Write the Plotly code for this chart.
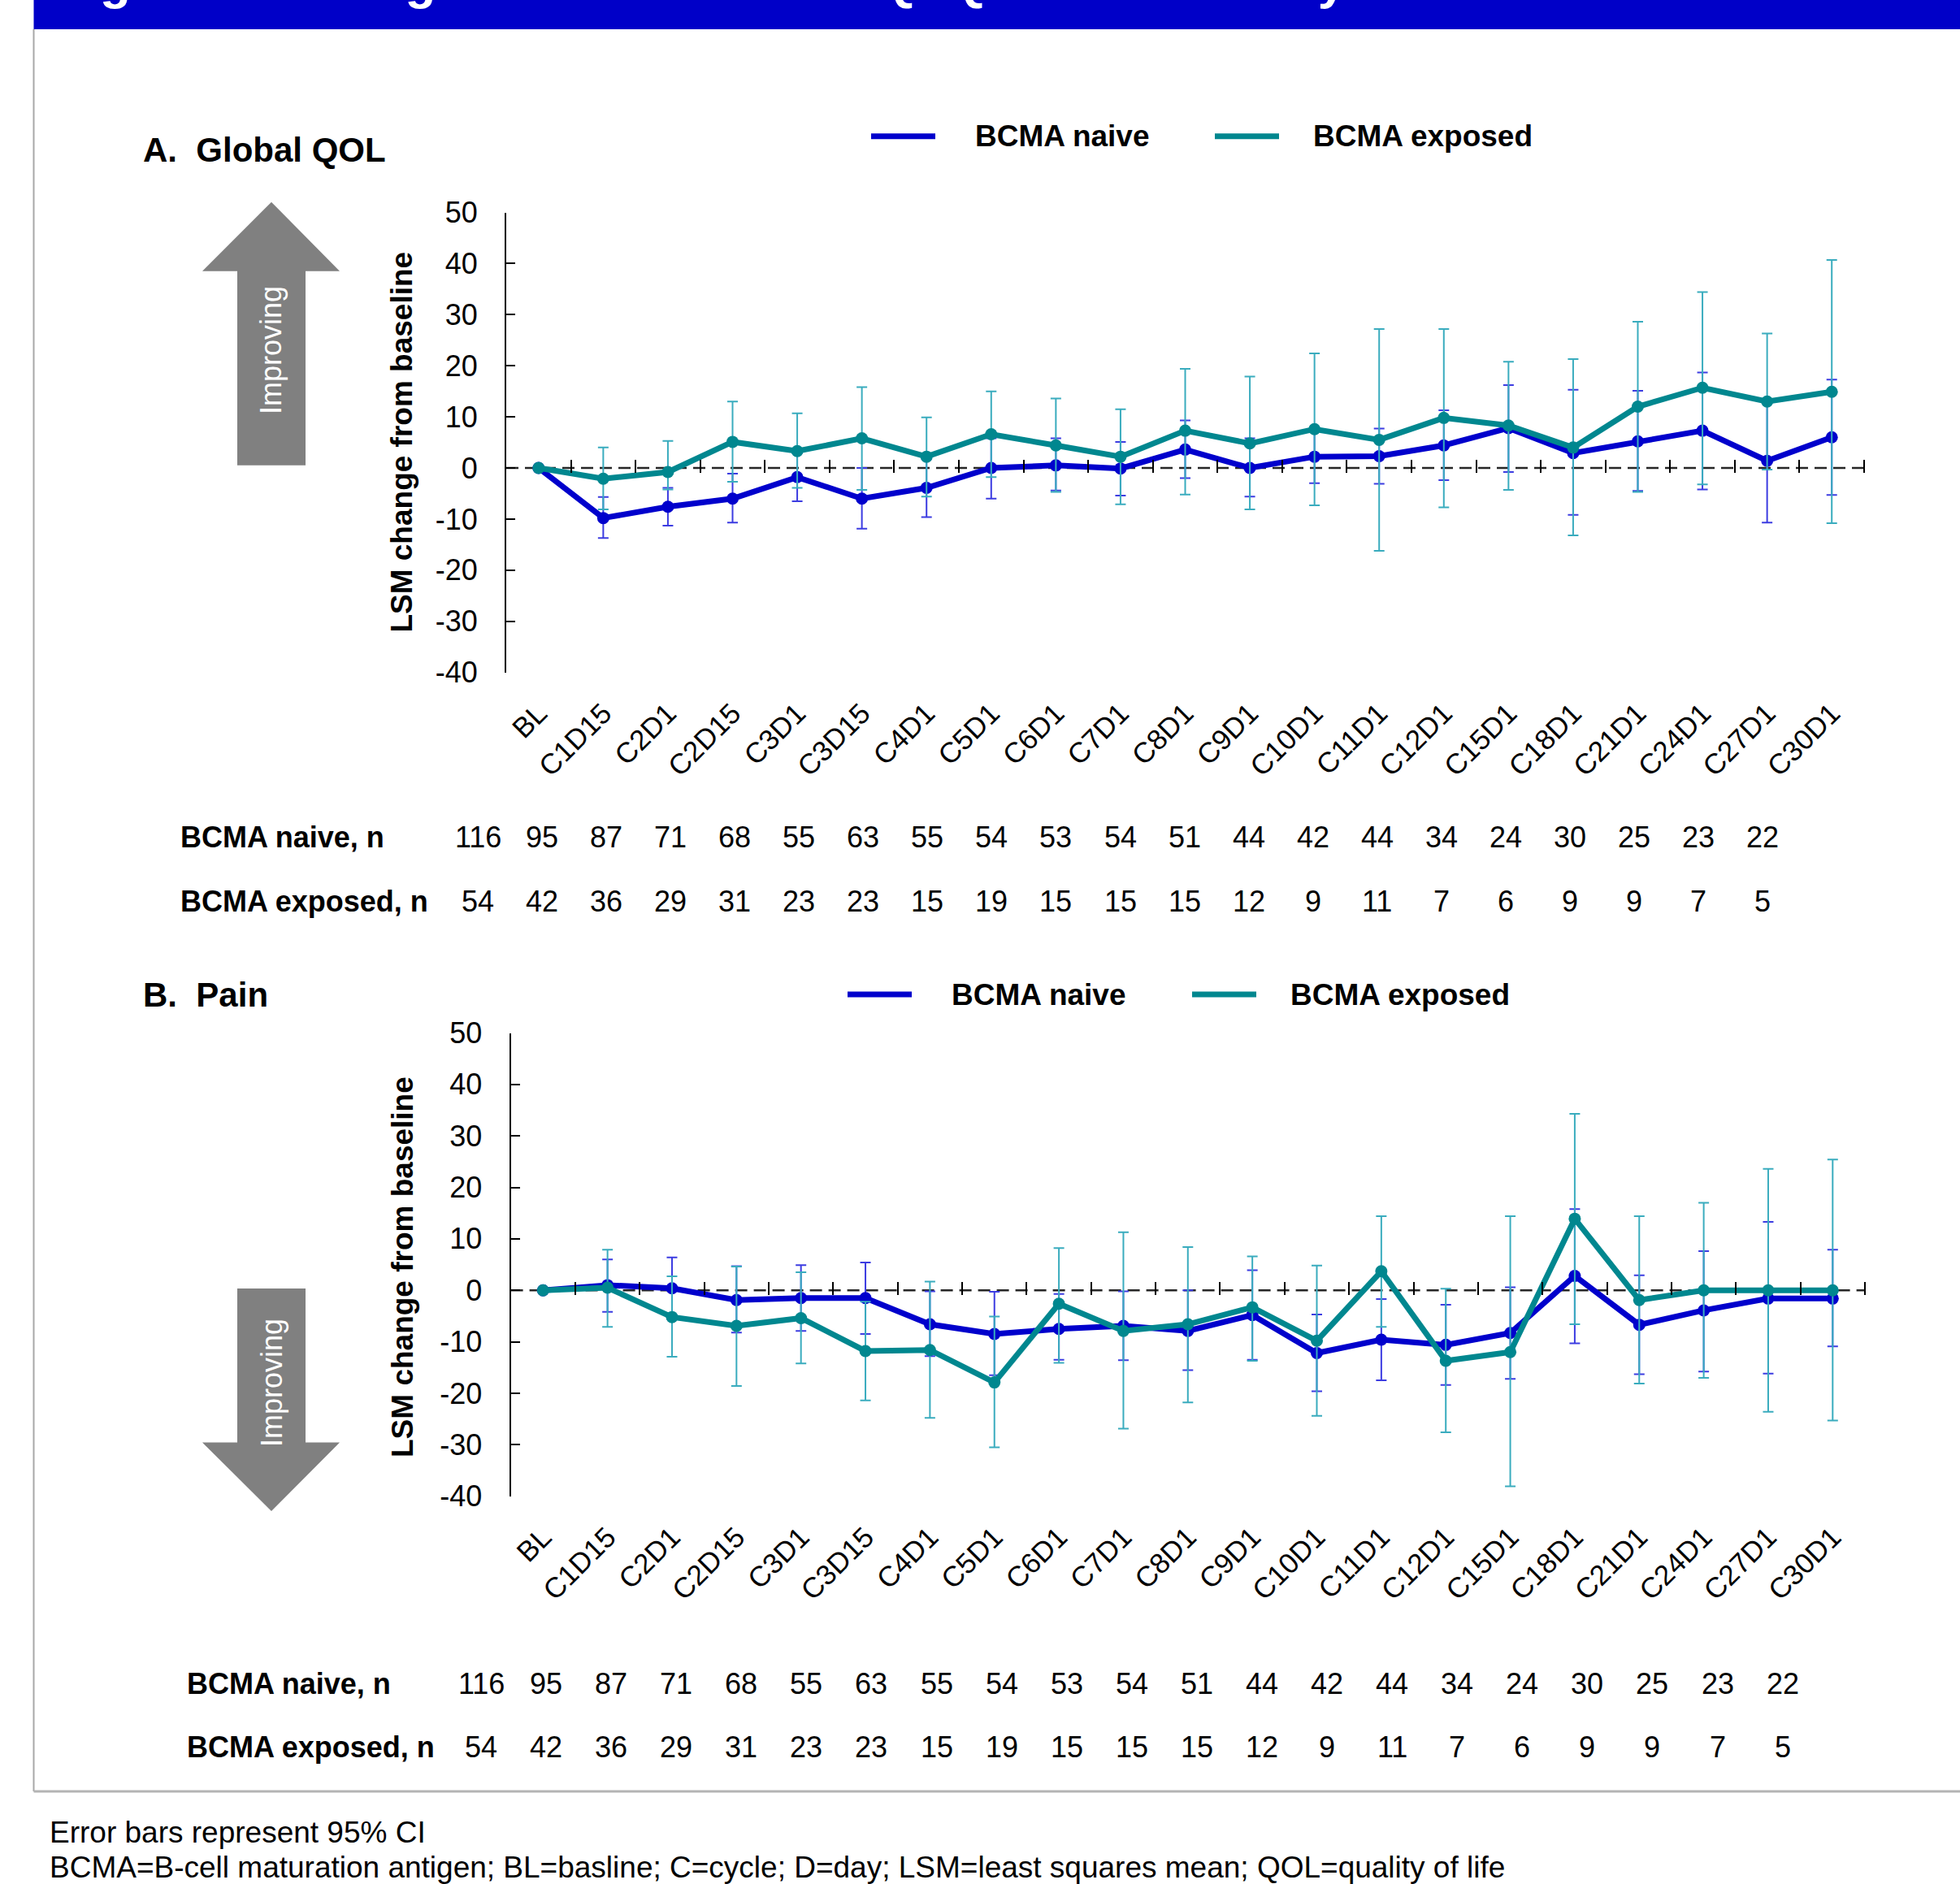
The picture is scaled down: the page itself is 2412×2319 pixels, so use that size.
import plotly.graph_objects as go

W, H = 2412, 2319
FONT = "Arial, 'Liberation Sans', Helvetica, sans-serif"

# ---------------- data ----------------
categories = ["BL", "C1D15", "C2D1", "C2D15", "C3D1", "C3D15", "C4D1", "C5D1", "C6D1",
              "C7D1", "C8D1", "C9D1", "C10D1", "C11D1", "C12D1", "C15D1", "C18D1",
              "C21D1", "C24D1", "C27D1", "C30D1"]

n_naive = [116, 95, 87, 71, 68, 55, 63, 55, 54, 53, 54, 51, 44, 42, 44, 34, 24, 30, 25, 23, 22]
n_exposed = [54, 42, 36, 29, 31, 23, 23, 15, 19, 15, 15, 15, 12, 9, 11, 7, 6, 9, 9, 7, 5]

# A. Global QOL
qol_naive_mean = [0, -9.8, -7.6, -6.0, -1.8, -6.0, -3.9, 0.0, 0.5, -0.1, 3.6, 0.0, 2.2, 2.3, 4.4, 7.8, 2.9, 5.2, 7.3, 1.4, 6.0]
qol_naive_lower = [0, -13.7, -11.3, -10.7, -6.5, -11.9, -9.6, -6.0, -4.4, -5.4, -2.0, -5.6, -3.0, -3.1, -2.4, -0.8, -9.2, -4.5, -4.2, -10.7, -5.3]
qol_naive_upper = [0, -5.7, -3.9, -1.1, 2.9, 0.0, 1.7, 5.8, 5.8, 5.1, 9.3, 5.8, 7.4, 7.7, 11.3, 16.2, 15.3, 15.1, 18.7, 13.2, 17.3]

qol_exposed_mean = [0, -2.1, -0.8, 5.1, 3.3, 5.8, 2.2, 6.6, 4.4, 2.2, 7.3, 4.8, 7.6, 5.5, 9.8, 8.3, 4.0, 12.0, 15.7, 13.0, 14.9]
qol_exposed_lower = [0, -8.1, -4.2, -2.7, -3.9, -4.3, -5.6, -1.8, -4.7, -7.1, -5.2, -8.1, -7.3, -16.2, -7.7, -4.3, -13.2, -4.7, -3.2, -0.3, -10.8]
qol_exposed_upper = [0, 4.0, 5.3, 13.0, 10.7, 15.8, 9.9, 15.0, 13.6, 11.5, 19.4, 17.9, 22.4, 27.2, 27.2, 20.8, 21.3, 28.6, 34.4, 26.3, 40.7]

# B. Pain
pain_naive_mean = [0, 1.0, 0.4, -1.9, -1.5, -1.5, -6.6, -8.5, -7.5, -6.9, -7.9, -4.8, -12.2, -9.6, -10.6, -8.3, 2.8, -6.7, -3.9, -1.6, -1.6]
pain_naive_lower = [0, -4.2, -5.6, -8.2, -7.9, -8.5, -12.8, -16.5, -13.5, -13.6, -15.5, -13.5, -19.6, -17.5, -18.4, -17.2, -10.3, -16.3, -15.8, -16.2, -10.9]
pain_naive_upper = [0, 6.0, 6.4, 4.7, 4.9, 5.4, -0.2, -0.3, -0.7, -0.2, 0.0, 3.9, -4.7, -1.7, -2.8, 0.6, 15.8, 2.9, 7.6, 13.3, 7.9]

pain_exposed_mean = [0, 0.5, -5.2, -6.9, -5.4, -11.8, -11.6, -17.9, -2.6, -7.9, -6.6, -3.3, -9.8, 3.7, -13.7, -12.0, 13.9, -1.9, 0.0, 0.0, 0.0]
pain_exposed_lower = [0, -7.1, -12.9, -18.6, -14.2, -21.4, -24.8, -30.5, -14.1, -26.9, -21.8, -13.7, -24.4, -7.1, -27.6, -38.1, -6.6, -18.1, -17.0, -23.6, -25.3]
pain_exposed_upper = [0, 7.9, 2.7, 4.6, 3.5, -2.2, 1.7, -5.1, 8.2, 11.3, 8.4, 6.6, 4.8, 14.4, 0.3, 14.4, 34.3, 14.4, 17.0, 23.6, 25.4]

y_ticks = [-40, -30, -20, -10, 0, 10, 20, 30, 40, 50]
y_tick_text = ["-40", "-30", "-20", "-10", "0", "10", "20", "30", "40", "50"]

# ---------------- styles ----------------
NAIVE = "#0000CC"
EXPOSED = "#00878F"
NAIVE_ERR = "rgb(60,60,225)"
EXPOSED_ERR = "rgb(58,172,190)"
ARROW = "#808080"


def px(x):
    return x / W


def py(y):
    return 1 - y / H


def add_series(fig, mean, lo, hi, color, ecolor, xa, ya, name):
    plus = [h - m for m, h in zip(mean, hi)]
    minus = [m - l for m, l in zip(mean, lo)]
    fig.add_trace(go.Scatter(
        x=categories, y=mean, mode="lines+markers", name=name,
        line=dict(color=color, width=7), marker=dict(color=color, size=15),
        error_y=dict(type="data", symmetric=False, array=plus, arrayminus=minus,
                     color=ecolor, thickness=2, width=6.5),
        xaxis=xa, yaxis=ya, showlegend=False, cliponaxis=False))


fig = go.Figure()
add_series(fig, qol_naive_mean, qol_naive_lower, qol_naive_upper, NAIVE, NAIVE_ERR, "x", "y", "BCMA naive")
add_series(fig, qol_exposed_mean, qol_exposed_lower, qol_exposed_upper, EXPOSED, EXPOSED_ERR, "x", "y", "BCMA exposed")
add_series(fig, pain_naive_mean, pain_naive_lower, pain_naive_upper, NAIVE, NAIVE_ERR, "x2", "y2", "BCMA naive")
add_series(fig, pain_exposed_mean, pain_exposed_lower, pain_exposed_upper, EXPOSED, EXPOSED_ERR, "x2", "y2", "BCMA exposed")
for xa, ya in [("x3", "y"), ("x4", "y2"), ("x5", "y"), ("x6", "y2")]:
    fig.add_trace(go.Scatter(x=[None], y=[None], xaxis=xa, yaxis=ya, showlegend=False, hoverinfo="skip"))

# ---------------- geometry (pixels) ----------------
A = dict(x0=623, x1=2294, ytop=261.5, ybot=827.6, tab0=588, tab1=2169,
         row1=1030.7, row2=1109, lab_x=220, title_y=184.6, leg_y=167.7,
         leg=(1072, 1151, 1198, 1495, 1574, 1614), ytitle_y=544.6)
B = dict(x0=628.6, x1=2295, ytop=1271.5, ybot=1841.6, tab0=592, tab1=2193.6,
         row1=2072, row2=2150.6, lab_x=227.7, title_y=1224, leg_y=1224,
         leg=(1043, 1122, 1169, 1467, 1546, 1586), ytitle_y=1560)


def zero_px(P):
    return P["ytop"] + 50 * (P["ybot"] - P["ytop"]) / 90


xcommon = dict(type="category", categoryorder="array", categoryarray=categories,
               range=[-0.5, 20.5], tickangle=-45, ticks="", showline=False,
               showgrid=False, zeroline=False, automargin=False,
               tickfont=dict(family=FONT, size=35, color="black"), ticklabelstandoff=22)
ycommon = dict(range=[-40, 50], tickmode="array", tickvals=y_ticks, ticktext=y_tick_text,
               ticks="inside", ticklen=11, automargin=False,
               tickwidth=2, tickcolor="black", showline=True, linecolor="black", linewidth=2,
               showgrid=False, zeroline=False,
               tickfont=dict(family=FONT, size=36, color="black"), ticklabelstandoff=26)


def tick_axis(over, P):
    return dict(overlaying=over, anchor="free", position=py(zero_px(P) + 6), side="top",
                range=[-0.5, 20.5], tickmode="array", tickvals=[k + 0.5 for k in range(len(categories))],
                ticks="outside", ticklen=16, tickwidth=2, tickcolor="black", automargin=False,
                showticklabels=False, showline=False, showgrid=False, zeroline=False)


def table_axis(P, ya):
    sp = (P["tab1"] - P["tab0"]) / (len(categories) - 1)
    return dict(domain=[(P["tab0"] - sp / 2) / W, (P["tab1"] + sp / 2) / W],
                range=[-0.5, len(categories) - 0.5], visible=False, anchor=ya, automargin=False)


fig.update_layout(
    template="none",
    width=W, height=H, margin=dict(l=0, r=0, t=0, b=0, pad=0, autoexpand=False),
    paper_bgcolor="white", plot_bgcolor="rgba(0,0,0,0)",
    font=dict(family=FONT, color="black"), showlegend=False,
    xaxis=dict(xcommon, domain=[px(A["x0"]), px(A["x1"])], anchor="y"),
    yaxis=dict(ycommon, domain=[py(A["ybot"]), py(A["ytop"])], anchor="x"),
    xaxis2=dict(xcommon, domain=[px(B["x0"]), px(B["x1"])], anchor="y2"),
    yaxis2=dict(ycommon, domain=[py(B["ybot"]), py(B["ytop"])], anchor="x2"),
    xaxis3=tick_axis("x", A),
    xaxis4=tick_axis("x2", B),
    xaxis5=table_axis(A, "y"),
    xaxis6=table_axis(B, "y2"),
)

shapes = []
ann = []


def text(t, x, y, size, bold=False, color="black", xanchor="center", yanchor="middle",
         angle=0, xref="paper", yref="paper"):
    ann.append(dict(text=f"<b>{t}</b>" if bold else t, x=x, y=y, xref=xref, yref=yref,
                    xanchor=xanchor, yanchor=yanchor, textangle=angle, showarrow=False,
                    font=dict(family=FONT, size=size, color=color)))


def pline(x0, y0, x1, y1, color, width, dash=None):
    shapes.append(dict(type="line", xref="paper", yref="paper", x0=px(x0), x1=px(x1),
                       y0=py(y0), y1=py(y1), line=dict(color=color, width=width, dash=dash)))


def ppath(points, color):
    d = "M " + " L ".join(f"{px(a):.5f},{py(b):.5f}" for a, b in points) + " Z"
    shapes.append(dict(type="path", xref="paper", yref="paper", path=d,
                       fillcolor=color, line=dict(width=0)))


# header bar (title runs off the top edge, as in the original), frame lines
shapes.append(dict(type="rect", xref="paper", yref="paper", x0=px(41.5), x1=1, y0=py(36), y1=1,
                   fillcolor="#0000C8", line=dict(width=0), layer="below"))
pline(41.5, 36, 41.5, 2205, "#A8A8A8", 2)
pline(41.5, 2205, W, 2205, "#B4B4B4", 3)
text("Figure 3. Change from baseline in QLQ-C30 scores by BCMA", px(66), py(-24), 62,
     bold=True, color="white", xanchor="left")

for P, xa, ya, xt, title in [(A, "x", "y", "x5", "A.\u00a0 Global QOL"),
                             (B, "x2", "y2", "x6", "B.\u00a0 Pain")]:
    # zero reference line
    shapes.append(dict(type="line", xref=f"{xa} domain", yref=ya, x0=0, x1=1, y0=0, y1=0,
                       line=dict(color="#262626", width=2.5, dash="15px,8px"), layer="below"))
    # panel title
    text(title, px(174), py(P["title_y"]), 42, bold=True, xanchor="left")
    # legend
    l1a, l1b, t1, l2a, l2b, t2 = P["leg"]
    pline(l1a, P["leg_y"], l1b, P["leg_y"], NAIVE, 7)
    text("BCMA naive", px(t1), py(P["leg_y"]), 37, bold=True, xanchor="left")
    pline(l2a, P["leg_y"], l2b, P["leg_y"], EXPOSED, 7)
    text("BCMA exposed", px(t2), py(P["leg_y"]), 37, bold=True, xanchor="left")
    # y title
    text("LSM change from baseline", px(495), py(P["ytitle_y"]), 37, bold=True, angle=-90)
    # n table
    text("BCMA naive, n", px(P["lab_x"]), py(P["row1"]), 36, bold=True, xanchor="left")
    text("BCMA exposed, n", px(P["lab_x"]), py(P["row2"]), 36, bold=True, xanchor="left")
    for k, v in enumerate(n_naive):
        text(str(v), k, py(P["row1"]), 36, xref=xt)
    for k, v in enumerate(n_exposed):
        text(str(v), k, py(P["row2"]), 36, xref=xt)

# improving arrows
ppath([(292, 572.7), (292, 333.7), (249, 333.7), (334, 248.7), (418, 333.7), (376, 333.7), (376, 572.7)], ARROW)
text("Improving", px(334), py(431), 36, color="white", angle=-90)
ppath([(292, 1586), (292, 1775.6), (249, 1775.6), (334, 1860), (418, 1775.6), (376, 1775.6), (376, 1586)], ARROW)
text("Improving", px(334), py(1702), 36, color="white", angle=-90)

# footnotes
text("Error bars represent 95% CI", px(59), py(2255), 37, xanchor="left")
text("BCMA=B-cell maturation antigen; BL=basline; C=cycle; D=day; LSM=least squares mean; QOL=quality of life",
     px(59), py(2298), 37, xanchor="left")

fig.update_layout(shapes=shapes, annotations=ann)
fig.write_html("out.html")
